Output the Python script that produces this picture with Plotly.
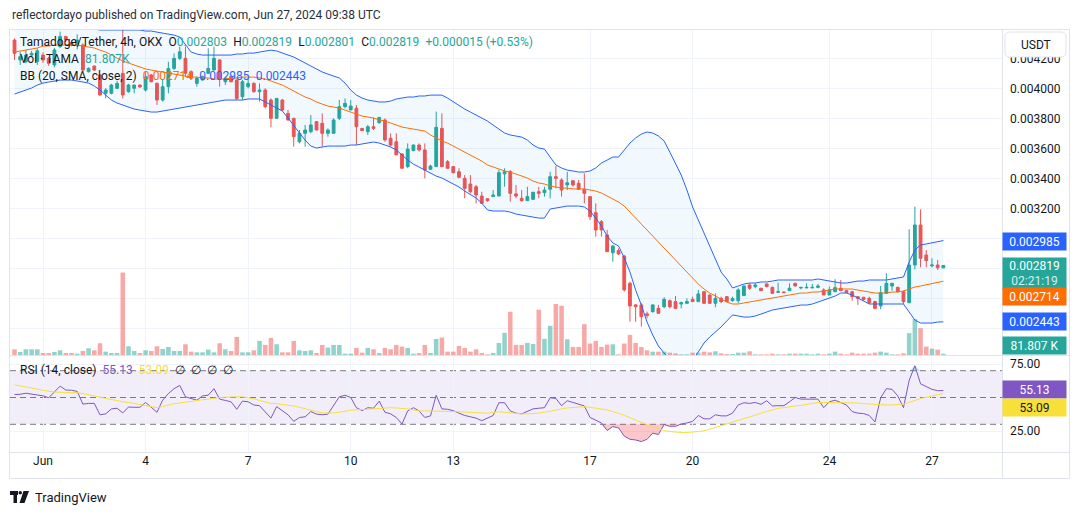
import plotly.graph_objects as go
import pandas as pd

# ---------------- data ----------------
# TAMA/USDT 4h candles (OKX). Prices in micro-USDT (value x 1e-6), first candle 2024-05-31 04:00
START = "2024-05-31 04:00"
OPEN_U = [
    4322, 4189, 4178, 4222, 4180, 4222, 4200, 4156, 4278, 4345,
    4305, 4290, 4289, 4111, 4149, 4089, 3967, 3967, 4000, 4100,
    3978, 4000, 4022, 3989, 4089, 4033, 3922, 4011, 4133, 4200,
    4200, 4111, 4033, 4056, 4100, 4122, 4189, 4044, 4078, 4056,
    3944, 4011, 4033, 3978, 3989, 3922, 3800, 3922, 3833, 3800,
    3644, 3700, 3711, 3778, 3767, 3700, 3700, 3800, 3878, 3856,
    3867, 3733, 3711, 3744, 3771, 3789, 3667, 3644, 3562, 3478,
    3585, 3622, 3589, 3460, 3478, 3733, 3511, 3478, 3444, 3400,
    3362, 3344, 3282, 3264, 3278, 3282, 3430, 3444, 3296, 3267,
    3251, 3260, 3311, 3304, 3327, 3411, 3389, 3356, 3384, 3367,
    3327, 3278, 3171, 3111, 3022, 2904, 2918, 2882, 2700, 2556,
    2556, 2496, 2511, 2533, 2544, 2584, 2578, 2562, 2567, 2593,
    2578, 2644, 2622, 2567, 2600, 2611, 2584, 2584, 2618, 2689,
    2678, 2667, 2696, 2673, 2640, 2642, 2651, 2700, 2669, 2669,
    2669, 2673, 2656, 2622, 2644, 2667, 2651, 2644, 2611, 2607,
    2600, 2578, 2549, 2633, 2682, 2673, 2644, 2571, 2822, 3089,
    2889, 2816, 2822, 2803]
HIGH_U = [
    4333, 4244, 4256, 4250, 4267, 4240, 4210, 4270, 4378, 4350,
    4320, 4360, 4300, 4140, 4150, 4095, 4000, 4030, 4050, 4400,
    4030, 4025, 4025, 4111, 4095, 4040, 4060, 4178, 4233, 4278,
    4278, 4120, 4078, 4085, 4267, 4278, 4195, 4078, 4085, 4060,
    4056, 4067, 4040, 4033, 4000, 3933, 3933, 3930, 3856, 3800,
    3722, 3756, 3822, 3780, 3833, 3733, 3800, 3922, 3933, 3922,
    3889, 3735, 3756, 3805, 3811, 3800, 3700, 3700, 3567, 3633,
    3625, 3633, 3633, 3490, 3845, 3833, 3522, 3480, 3467, 3422,
    3422, 3356, 3311, 3267, 3322, 3456, 3467, 3456, 3356, 3322,
    3344, 3310, 3344, 3344, 3444, 3482, 3400, 3444, 3389, 3389,
    3433, 3278, 3233, 3122, 3056, 2956, 2933, 2889, 2711, 2562,
    2567, 2511, 2560, 2556, 2607, 2593, 2616, 2578, 2600, 2611,
    2656, 2650, 2625, 2633, 2611, 2614, 2611, 2667, 2685, 2700,
    2700, 2670, 2700, 2678, 2704, 2645, 2700, 2704, 2673, 2700,
    2696, 2696, 2667, 2678, 2727, 2722, 2653, 2651, 2613, 2610,
    2611, 2584, 2682, 2767, 2700, 2678, 2651, 3060, 3211, 3193,
    2922, 2867, 2856, 2819]
LOW_U = [
    4189, 4156, 4167, 4210, 4156, 4170, 4150, 4140, 4270, 4310,
    4280, 4260, 4110, 4105, 4115, 3950, 3933, 3960, 3995, 3933,
    3970, 3967, 4005, 3978, 4040, 3889, 3911, 3967, 4122, 4189,
    4078, 4060, 4011, 4050, 4095, 4120, 4011, 4022, 4040, 3922,
    3922, 4000, 3970, 3911, 3867, 3740, 3800, 3850, 3785, 3611,
    3633, 3611, 3700, 3720, 3611, 3678, 3700, 3789, 3867, 3856,
    3622, 3715, 3689, 3722, 3765, 3644, 3611, 3556, 3467, 3467,
    3580, 3578, 3400, 3455, 3478, 3478, 3467, 3433, 3400, 3267,
    3300, 3233, 3233, 3244, 3278, 3282, 3344, 3244, 3267, 3244,
    3251, 3255, 3267, 3278, 3267, 3333, 3278, 3322, 3344, 3322,
    3233, 3122, 3011, 3011, 2911, 2844, 2889, 2644, 2444, 2444,
    2411, 2467, 2505, 2500, 2533, 2533, 2527, 2533, 2562, 2578,
    2578, 2565, 2562, 2540, 2567, 2575, 2578, 2567, 2615, 2656,
    2667, 2648, 2673, 2633, 2640, 2636, 2651, 2680, 2660, 2669,
    2669, 2667, 2622, 2622, 2644, 2651, 2636, 2584, 2556, 2584,
    2562, 2527, 2527, 2633, 2651, 2640, 2562, 2567, 2793, 2807,
    2807, 2807, 2789, 2801]
CLOSE_U = [
    4233, 4211, 4222, 4233, 4250, 4189, 4167, 4256, 4345, 4322,
    4289, 4322, 4122, 4133, 4122, 3956, 3989, 4022, 4033, 3956,
    4022, 4022, 4009, 4078, 4044, 3922, 4011, 4133, 4200, 4244,
    4100, 4067, 4067, 4078, 4133, 4200, 4067, 4067, 4044, 3933,
    4044, 4033, 3978, 3989, 3878, 3800, 3933, 3856, 3789, 3678,
    3700, 3722, 3756, 3722, 3700, 3722, 3789, 3878, 3900, 3882,
    3744, 3718, 3744, 3733, 3805, 3656, 3622, 3556, 3467, 3595,
    3622, 3589, 3456, 3482, 3740, 3478, 3467, 3438, 3407, 3333,
    3311, 3289, 3233, 3251, 3289, 3438, 3444, 3300, 3282, 3251,
    3278, 3307, 3300, 3322, 3411, 3400, 3322, 3371, 3356, 3327,
    3300, 3144, 3056, 3056, 2911, 2949, 2896, 2656, 2549, 2544,
    2478, 2487, 2556, 2500, 2593, 2544, 2533, 2571, 2578, 2578,
    2629, 2567, 2567, 2600, 2578, 2578, 2598, 2656, 2682, 2667,
    2689, 2651, 2678, 2633, 2644, 2638, 2667, 2682, 2673, 2673,
    2673, 2682, 2622, 2656, 2671, 2651, 2638, 2611, 2600, 2593,
    2571, 2533, 2638, 2700, 2700, 2644, 2578, 2822, 3089, 2867,
    2851, 2822, 2804, 2819]
VOLUME_K = [
    374, 198, 374, 374, 374, 132, 132, 198, 308, 132,
    132, 88, 264, 440, 308, 770, 220, 132, 132, 5412,
    572, 264, 132, 308, 264, 572, 396, 528, 264, 264,
    704, 220, 176, 176, 352, 176, 770, 374, 264, 1188,
    176, 176, 308, 924, 660, 1122, 704, 176, 176, 924,
    308, 264, 308, 132, 660, 484, 660, 660, 88, 88,
    462, 154, 462, 374, 132, 462, 374, 660, 550, 462,
    88, 132, 660, 132, 1056, 1144, 220, 220, 594, 462,
    220, 374, 132, 44, 132, 792, 1452, 2838, 660, 660,
    792, 726, 2970, 1056, 1914, 3344, 3234, 1034, 528, 528,
    2024, 748, 924, 528, 682, 704, 44, 748, 1320, 792,
    528, 308, 220, 220, 220, 154, 110, 44, 44, 154,
    154, 220, 176, 242, 110, 66, 66, 154, 154, 242,
    44, 44, 44, 88, 44, 44, 88, 88, 88, 88,
    44, 88, 44, 88, 220, 88, 44, 154, 88, 88,
    88, 154, 220, 154, 44, 44, 110, 1430, 2354, 1760,
    550, 418, 352, 81.807]
BB_UPPER_U = [
    4522, 4523, 4521, 4522, 4516, 4529, 4522, 4529, 4523, 4523,
    4523, 4529, 4402, 4395, 4395, 4389, 4389, 4389, 4389, 4389,
    4389, 4389, 4389, 4382, 4382, 4375, 4369, 4362, 4355, 4342,
    4289, 4242, 4229, 4222, 4222, 4222, 4222, 4222, 4222, 4229,
    4229, 4235, 4235, 4242, 4249, 4255, 4249, 4235, 4222, 4209,
    4189, 4169, 4149, 4129, 4109, 4095, 4082, 4069, 4035, 3989,
    3955, 3935, 3922, 3915, 3909, 3909, 3915, 3929, 3935, 3942,
    3942, 3949, 3949, 3955, 3955, 3955, 3935, 3909, 3882, 3862,
    3842, 3822, 3802, 3782, 3755, 3729, 3702, 3689, 3682, 3675,
    3655, 3622, 3602, 3595, 3542, 3489, 3469, 3455, 3449, 3442,
    3442, 3449, 3469, 3502, 3522, 3542, 3542, 3589, 3635, 3669,
    3695, 3709, 3702, 3682, 3649, 3575, 3502, 3422, 3322, 3209,
    3122, 3035, 2942, 2855, 2775, 2729, 2669, 2682, 2695, 2702,
    2702, 2709, 2709, 2715, 2722, 2722, 2722, 2722, 2722, 2722,
    2722, 2729, 2722, 2715, 2709, 2702, 2702, 2709, 2715, 2715,
    2722, 2722, 2722, 2722, 2729, 2735, 2742, 2842, 2922, 2955,
    2962, 2969, 2975, 2985]
BB_BASIS_U = [
    4242, 4249, 4255, 4262, 4269, 4282, 4282, 4289, 4289, 4289,
    4289, 4289, 4282, 4275, 4269, 4255, 4242, 4222, 4202, 4182,
    4169, 4155, 4142, 4129, 4122, 4115, 4109, 4102, 4095, 4089,
    4082, 4075, 4075, 4069, 4069, 4062, 4062, 4062, 4069, 4069,
    4075, 4075, 4075, 4069, 4062, 4049, 4035, 4022, 4002, 3982,
    3962, 3942, 3929, 3909, 3895, 3882, 3875, 3869, 3855, 3842,
    3829, 3815, 3809, 3802, 3789, 3782, 3769, 3755, 3742, 3735,
    3729, 3722, 3715, 3689, 3669, 3649, 3635, 3615, 3595, 3575,
    3555, 3535, 3515, 3489, 3475, 3462, 3449, 3442, 3429, 3415,
    3402, 3382, 3369, 3362, 3349, 3342, 3335, 3335, 3329, 3329,
    3329, 3322, 3315, 3302, 3282, 3262, 3242, 3215, 3175, 3135,
    3095, 3049, 3009, 2975, 2935, 2889, 2849, 2815, 2775, 2729,
    2695, 2662, 2635, 2615, 2595, 2575, 2562, 2562, 2569, 2575,
    2582, 2589, 2595, 2602, 2609, 2615, 2622, 2629, 2635, 2635,
    2642, 2642, 2649, 2655, 2662, 2662, 2662, 2662, 2655, 2649,
    2642, 2635, 2635, 2635, 2642, 2642, 2649, 2662, 2675, 2682,
    2689, 2695, 2702, 2714]
BB_LOWER_U = [
    3962, 3975, 3989, 4002, 4022, 4035, 4042, 4049, 4055, 4055,
    4055, 4049, 4042, 4035, 4015, 3989, 3955, 3922, 3902, 3889,
    3875, 3862, 3855, 3849, 3842, 3842, 3849, 3855, 3862, 3869,
    3875, 3882, 3889, 3895, 3902, 3909, 3915, 3922, 3922, 3922,
    3922, 3929, 3929, 3929, 3909, 3889, 3869, 3849, 3802, 3749,
    3702, 3655, 3615, 3602, 3609, 3615, 3615, 3615, 3615, 3622,
    3622, 3629, 3635, 3642, 3635, 3622, 3609, 3589, 3555, 3522,
    3495, 3475, 3455, 3435, 3415, 3402, 3382, 3362, 3342, 3315,
    3289, 3269, 3235, 3189, 3182, 3182, 3182, 3175, 3162, 3155,
    3149, 3142, 3135, 3135, 3195, 3202, 3209, 3215, 3215, 3215,
    3209, 3182, 3135, 3082, 3015, 2969, 2949, 2869, 2775, 2655,
    2555, 2442, 2355, 2282, 2235, 2189, 2162, 2149, 2155, 2189,
    2242, 2302, 2342, 2375, 2409, 2449, 2489, 2482, 2475, 2475,
    2482, 2495, 2509, 2522, 2529, 2535, 2542, 2549, 2555, 2555,
    2562, 2575, 2589, 2602, 2615, 2635, 2635, 2622, 2602, 2582,
    2562, 2562, 2562, 2562, 2562, 2562, 2562, 2509, 2455, 2435,
    2435, 2435, 2442, 2443]
RSI = [
    52.2, 52.4, 53.2, 52.7, 52.2, 51.2, 49.8, 54.1, 58.5, 55.6,
    55.4, 54.6, 45.1, 45.6, 45.6, 37.1, 37.8, 41.5, 42.0, 38.5,
    42.9, 42.7, 42.7, 46.3, 42.4, 39.0, 48.0, 52.9, 56.6, 59.0,
    50.5, 49.0, 48.0, 51.2, 51.7, 56.6, 48.8, 47.8, 46.8, 41.2,
    47.3, 46.8, 44.4, 43.9, 39.5, 34.6, 43.2, 40.2, 37.1, 32.2,
    35.1, 35.6, 39.5, 37.6, 37.1, 37.6, 44.4, 50.5, 51.7, 50.0,
    42.4, 40.2, 42.4, 42.0, 47.3, 39.0, 37.8, 35.1, 30.2, 40.0,
    42.4, 40.0, 35.1, 36.3, 51.7, 41.5, 41.2, 40.2, 38.3, 36.6,
    35.6, 34.6, 32.7, 34.6, 36.6, 46.1, 46.1, 40.0, 38.3, 37.8,
    39.5, 41.5, 42.0, 42.4, 49.8, 49.3, 43.9, 47.6, 46.3, 44.9,
    43.7, 35.1, 33.2, 31.0, 25.4, 28.3, 27.3, 21.2, 18.8, 18.3,
    17.1, 18.8, 23.4, 22.4, 29.8, 28.5, 28.5, 30.2, 31.0, 32.2,
    36.6, 34.1, 34.1, 37.1, 36.3, 36.3, 38.3, 44.4, 46.1, 45.6,
    46.3, 44.9, 47.6, 43.7, 43.9, 43.9, 46.8, 50.0, 48.8, 48.8,
    48.8, 48.8, 42.4, 46.8, 48.0, 46.1, 44.4, 39.5, 38.3, 38.0,
    36.6, 31.7, 49.8, 56.6, 56.1, 51.2, 42.4, 62.7, 73.7, 60.2,
    58.3, 56.1, 55.1, 55.13]
RSI_MA = [
    59.5, 58.5, 57.8, 57.1, 56.1, 55.1, 54.6, 54.1, 53.7, 53.7,
    53.7, 53.7, 52.9, 52.0, 51.2, 50.5, 49.5, 48.5, 47.6, 46.8,
    46.3, 45.6, 44.9, 43.9, 43.2, 42.4, 43.2, 44.4, 45.4, 45.9,
    46.6, 47.1, 47.8, 48.3, 48.8, 49.5, 50.0, 50.2, 50.5, 50.5,
    50.5, 50.0, 49.0, 47.8, 46.6, 45.6, 45.4, 44.9, 44.4, 43.7,
    42.7, 41.5, 40.5, 39.5, 38.5, 38.3, 38.5, 39.0, 39.8, 40.5,
    40.7, 41.0, 41.2, 41.5, 42.0, 42.4, 42.4, 42.2, 42.0, 41.5,
    40.7, 40.0, 40.0, 40.0, 40.0, 40.0, 39.8, 39.5, 39.3, 39.0,
    38.8, 38.5, 38.3, 38.3, 38.8, 39.3, 39.0, 38.5, 38.0, 37.8,
    37.8, 38.0, 38.3, 39.0, 40.0, 40.7, 41.5, 42.2, 42.7, 43.2,
    43.2, 42.7, 42.2, 41.7, 40.7, 39.5, 38.3, 36.8, 34.9, 33.2,
    31.5, 29.5, 28.0, 26.8, 25.4, 24.6, 24.1, 23.9, 23.9, 24.1,
    24.6, 25.1, 26.3, 27.6, 29.0, 30.2, 31.7, 32.9, 34.1, 35.6,
    36.8, 38.3, 39.5, 41.0, 42.0, 42.4, 43.2, 43.7, 44.1, 44.9,
    45.6, 46.3, 46.3, 46.3, 46.3, 46.3, 46.1, 46.1, 45.9, 45.4,
    45.1, 44.6, 44.4, 44.4, 44.4, 44.6, 45.1, 46.3, 48.0, 49.3,
    50.2, 51.2, 52.2, 53.09]
DAY_TICKS = ["2024-06-01", "2024-06-04", "2024-06-07", "2024-06-10", "2024-06-13",
             "2024-06-17", "2024-06-20", "2024-06-24", "2024-06-27"]
DAY_LABELS = ["Jun", "4", "7", "10", "13", "17", "20", "24", "27"]
PRICE_TICKS_U = [2400, 2600, 2800, 3000, 3200, 3400, 3600, 3800, 4000, 4200]
PRICE_TICK_TEXT = ["", "", "", "", "0.003200", "0.003400", "0.003600",
                   "0.003800", "0.004000", "0.004200"]
RSI_TICKS = [25, 75]
RSI_TICK_TEXT = ["25.00", "75.00"]

U = 1e-6
n = len(CLOSE_U)
for arr in (OPEN_U, HIGH_U, LOW_U, VOLUME_K, BB_UPPER_U, BB_BASIS_U, BB_LOWER_U, RSI, RSI_MA):
    assert len(arr) == n, (len(arr), n)
times = pd.date_range(START, periods=n, freq="4h")
o = [v * U for v in OPEN_U]
h = [v * U for v in HIGH_U]
l = [v * U for v in LOW_U]
c = [v * U for v in CLOSE_U]
up = [v * U for v in BB_UPPER_U]
mid = [v * U for v in BB_BASIS_U]
lo = [v * U for v in BB_LOWER_U]

# ---------------- style ----------------
FONT = "Roboto, Arial, sans-serif"
TXT = "#131722"
GRID = "#f0f3fa"
BORDER = "#e0e3eb"
UPC, DNC = "#26a69a", "#ef5350"
BLUE, ORANGE, PURPLE, YELLOW = "#2962ff", "#ff6d00", "#7e57c2", "#f7e03a"

W, H = 1080, 515
PL, PR, PT, PB = 10, 1002, 30, 452      # plot box in pixels


def px(X):
    return (X - PL) / (PR - PL)


def py(Y):
    return (PB - Y) / (PB - PT)


PRICE_PANE_BOTTOM = 355
RSI_PANE_TOP = 356
price_range = [2222 * U, 4389 * U]
rsi_range = [9.33, 80.97]
VOL_TOP = 21320

fig = go.Figure()

vol_colors = ["rgba(38,166,154,0.5)" if cc >= oo else "rgba(239,83,80,0.5)" for oo, cc in zip(OPEN_U, CLOSE_U)]
fig.add_trace(go.Bar(x=times, y=VOLUME_K, marker=dict(color=vol_colors, line=dict(width=0)),
                     width=4 * 3600 * 1000 * 0.8, xaxis="x", yaxis="y", hoverinfo="skip"))

fig.add_trace(go.Scatter(x=times, y=lo, mode="lines", line=dict(color=BLUE, width=1),
                         xaxis="x", yaxis="y2", hoverinfo="skip"))
fig.add_trace(go.Scatter(x=times, y=up, mode="lines", line=dict(color=BLUE, width=1),
                         fill="tonexty", fillcolor="rgba(33,150,243,0.06)",
                         xaxis="x", yaxis="y2", hoverinfo="skip"))
fig.add_trace(go.Scatter(x=times, y=mid, mode="lines", line=dict(color=ORANGE, width=1),
                         xaxis="x", yaxis="y2", hoverinfo="skip"))
fig.add_trace(go.Candlestick(x=times, open=o, high=h, low=l, close=c,
                             increasing=dict(line=dict(color=UPC, width=1), fillcolor=UPC),
                             decreasing=dict(line=dict(color=DNC, width=1), fillcolor=DNC),
                             whiskerwidth=0, xaxis="x", yaxis="y2", hoverinfo="skip"))

# RSI pane
fig.add_trace(go.Scatter(x=times, y=[30] * n, mode="lines", line=dict(width=0), xaxis="x", yaxis="y3", hoverinfo="skip"))
fig.add_trace(go.Scatter(x=times, y=[min(v, 30) for v in RSI], mode="lines", line=dict(width=0),
                         fill="tonexty", fillcolor="rgba(242,54,69,0.28)", xaxis="x", yaxis="y3", hoverinfo="skip"))
fig.add_trace(go.Scatter(x=times, y=[70] * n, mode="lines", line=dict(width=0), xaxis="x", yaxis="y3", hoverinfo="skip"))
fig.add_trace(go.Scatter(x=times, y=[max(v, 70) for v in RSI], mode="lines", line=dict(width=0),
                         fill="tonexty", fillcolor="rgba(38,166,154,0.28)", xaxis="x", yaxis="y3", hoverinfo="skip"))
fig.add_trace(go.Scatter(x=times, y=RSI, mode="lines", line=dict(color=PURPLE, width=1),
                         xaxis="x", yaxis="y3", hoverinfo="skip"))
fig.add_trace(go.Scatter(x=times, y=RSI_MA, mode="lines", line=dict(color=YELLOW, width=1),
                         xaxis="x", yaxis="y3", hoverinfo="skip"))

tickfont = dict(size=12, color=TXT, family=FONT)
fig.update_layout(
    width=W, height=H, margin=dict(l=PL, r=W - PR, t=PT, b=H - PB),
    paper_bgcolor="white", plot_bgcolor="white", showlegend=False,
    xaxis=dict(domain=[0, 1], anchor="y3", type="date",
               range=["2024-05-31 00:50", "2024-06-29 01:10"],
               tickvals=DAY_TICKS, ticktext=DAY_LABELS, showgrid=True, gridcolor=GRID,
               zeroline=False, showline=False, ticks="", tickfont=tickfont,
               rangeslider=dict(visible=False), fixedrange=True),
    yaxis=dict(domain=[py(PRICE_PANE_BOTTOM), 1], range=[0, VOL_TOP], visible=False, fixedrange=True),
    yaxis2=dict(overlaying="y", side="right", anchor="x", range=price_range,
                tickvals=[v * U for v in PRICE_TICKS_U], ticktext=PRICE_TICK_TEXT,
                showgrid=True, gridcolor=GRID, zeroline=False, showline=False, ticks="",
                ticklabelstandoff=7, tickfont=tickfont, fixedrange=True),
    yaxis3=dict(domain=[0, py(RSI_PANE_TOP)], anchor="x", side="right", range=rsi_range,
                tickvals=RSI_TICKS, ticktext=RSI_TICK_TEXT, showgrid=True, gridcolor=GRID,
                zeroline=False, showline=False, ticks="", ticklabelstandoff=7,
                tickfont=tickfont, fixedrange=True),
)

shapes = []
# RSI band and dashed levels
shapes.append(dict(type="rect", xref="paper", yref="y3", x0=0, x1=1, y0=30, y1=70,
                   fillcolor="rgba(126,87,194,0.10)", line=dict(width=0), layer="below"))
for lvl in (70, 50, 30):
    shapes.append(dict(type="line", xref="paper", yref="y3", x0=0, x1=1, y0=lvl, y1=lvl,
                       line=dict(color="#787b86", width=1, dash="6px,4px"), layer="below"))
# frame and separators


def hline(Y, X0=9.5, X1=1069.5):
    return dict(type="line", xref="paper", yref="paper", x0=px(X0), x1=px(X1), y0=py(Y), y1=py(Y),
                line=dict(color=BORDER, width=1), layer="above")


def vline(X, Y0=29.5, Y1=478.5):
    return dict(type="line", xref="paper", yref="paper", x0=px(X), x1=px(X), y0=py(Y0), y1=py(Y1),
                line=dict(color=BORDER, width=1), layer="above")


shapes += [hline(29.5), hline(355.5), hline(452.5), hline(478.5),
           vline(9.5), vline(1002.5), vline(1069.5)]


def rounded(X0, Y0, X1, Y1, r):
    p = lambda X, Y: f"{px(X):.6f},{py(Y):.6f}"
    return (f"M {p(X0 + r, Y0)} L {p(X1 - r, Y0)} Q {p(X1, Y0)} {p(X1, Y0 + r)} "
            f"L {p(X1, Y1 - r)} Q {p(X1, Y1)} {p(X1 - r, Y1)} L {p(X0 + r, Y1)} "
            f"Q {p(X0, Y1)} {p(X0, Y1 - r)} L {p(X0, Y0 + r)} Q {p(X0, Y0)} {p(X0 + r, Y0)} Z")


shapes.append(dict(type="path", xref="paper", yref="paper", path=rounded(1005, 32, 1066, 57, 5),
                   fillcolor="white", line=dict(color=BORDER, width=1), layer="above"))
# TradingView logo glyph
shapes.append(dict(type="rect", xref="paper", yref="paper", x0=px(10), x1=px(18), y0=py(491), y1=py(495),
                   fillcolor="#131722", line=dict(width=0), layer="above"))
shapes.append(dict(type="rect", xref="paper", yref="paper", x0=px(13.5), x1=px(17), y0=py(491), y1=py(503),
                   fillcolor="#131722", line=dict(width=0), layer="above"))
shapes.append(dict(type="circle", xref="paper", yref="paper", x0=px(18.5), x1=px(22), y0=py(491), y1=py(494.5),
                   fillcolor="#131722", line=dict(width=0), layer="above"))
shapes.append(dict(type="path", xref="paper", yref="paper",
                   path=f"M {px(23.5)},{py(491)} L {px(29)},{py(491)} L {px(24.5)},{py(503)} L {px(19.5)},{py(503)} Z",
                   fillcolor="#131722", line=dict(width=0), layer="above"))
fig.update_layout(shapes=shapes)

anns = []


def ann(X, Y, text, size=12, color=TXT, xanchor="left", **kw):
    anns.append(dict(x=px(X), y=py(Y), xref="paper", yref="paper", text=text, showarrow=False,
                     xanchor=xanchor, yanchor="middle",
                     font=dict(size=size, color=color, family=FONT), **kw))


def col(t, cc):
    return f"<span style='color:{cc}'>{t}</span>"


sp = "\u2002"
ann(10, 15, "reflectordayo published on TradingView.com, Jun 27, 2024 09:38 UTC", size=12, color="#2a2e39")
ann(18, 42, "Tamadoge/Tether, 4h, OKX" + sp + "O" + col("0.002803", UPC) + sp + "H" + col("0.002819", UPC)
    + sp + "L" + col("0.002801", UPC) + sp + "C" + col("0.002819", UPC) + sp + col("+0.000015 (+0.53%)", UPC))
ann(18, 59, "Vol · TAMA" + sp + col("81.807K", UPC))
ann(18, 76, "BB (20, SMA, close, 2)" + sp + col("0.002714", ORANGE) + sp + col("0.002985", BLUE)
    + sp + col("0.002443", BLUE))
ann(18, 370, "RSI (14, close)" + sp + col("55.13", PURPLE) + sp + col("53.09", YELLOW) + sp
    + "∅" + sp + "∅" + sp + "∅" + sp + "∅")
ann(33, 497, "TradingView", size=13, color=TXT)
ann(1035.5, 44.5, "USDT", size=12, color=TXT, xanchor="center")


def label(Y, text, bg, fg="white", hgt=13):
    ann(1002, Y, text, size=12, color=fg, bgcolor=bg, width=59, height=hgt, align="center", borderpad=2)


label(241.5, "0.002985", BLUE)
label(273.5, "0.002819<br>" + col("02:21:19", "rgba(255,255,255,0.82)"), UPC, hgt=27)
label(296.5, "0.002714", ORANGE)
label(321.0, "0.002443", BLUE)
label(345.5, "81.807 K", UPC)
label(389.5, "55.13", PURPLE)
label(407.0, "53.09", YELLOW, fg=TXT)
fig.update_layout(annotations=anns)

fig.write_html("out.html")
